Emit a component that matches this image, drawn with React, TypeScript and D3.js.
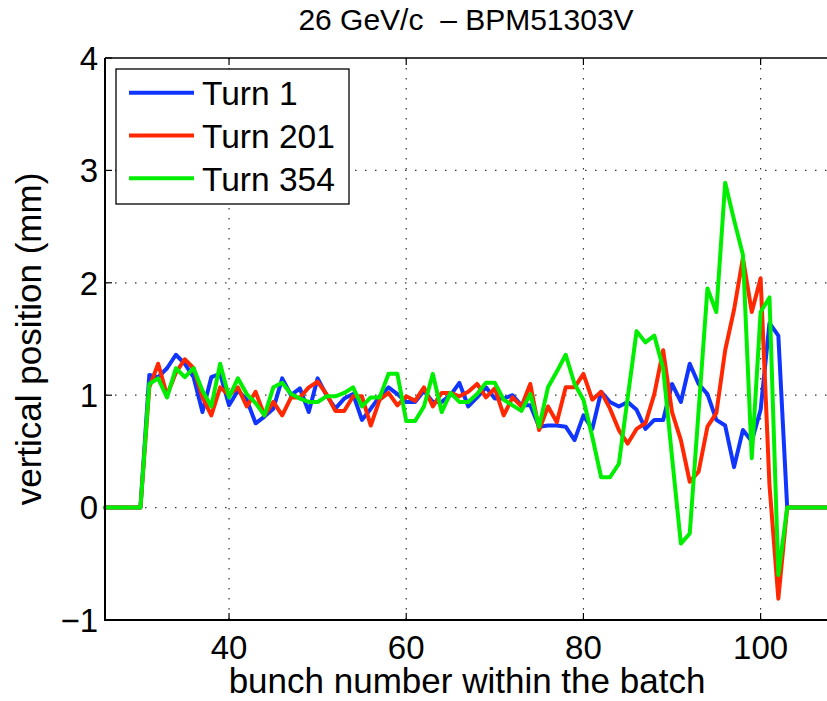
import React from "react";
import * as d3 from "d3";

const bunches: number[] = d3.range(26, 109);

const turn1: number[] = [
  0, 0, 0, 0, 0,
  1.18, 1.16, 1.24, 1.36, 1.28, 1.16, 0.85, 1.16, 1.19, 0.91, 1.04, 0.96, 0.75, 0.81, 0.88, 1.15, 1.0, 1.06, 0.85, 1.15, 1.0, 0.88, 0.97, 1.01,
  0.78, 0.88, 0.99, 1.07, 1.01, 0.94, 0.94, 1.04, 0.94, 0.94, 1.0, 1.11, 0.9, 0.98, 1.07, 0.97, 0.97, 1.0, 0.91, 0.91, 0.72, 0.73, 0.73, 0.72, 0.6,
  0.82, 0.7, 1.03, 0.94, 0.9, 0.94, 0.87, 0.7, 0.78, 0.78, 1.1, 0.94, 1.28, 1.1, 1.01, 0.78, 0.73, 0.36, 0.69, 0.59, 0.87, 1.64, 1.53,
  0, 0, 0, 0, 0, 0,
];

const turn201: number[] = [
  0, 0, 0, 0, 0,
  1.07, 1.28, 1.0, 1.2, 1.32, 1.24, 0.98, 0.82, 1.07, 1.0, 1.07, 0.9, 1.03, 0.82, 0.94, 0.82, 0.98, 0.98, 1.07, 1.12, 1.01, 0.86, 0.86, 0.99,
  0.99, 0.73, 0.96, 1.02, 0.91, 0.99, 0.95, 1.07, 0.9, 1.02, 1.02, 0.99, 1.03, 1.1, 0.98, 1.06, 0.82, 0.98, 0.9, 1.1, 0.69, 0.9, 0.76, 1.07, 1.07,
  1.19, 0.96, 1.03, 0.88, 0.69, 0.57, 0.7, 0.75, 1.01, 1.4, 0.85, 0.6, 0.23, 0.32, 0.72, 0.84, 1.4, 1.76, 2.22, 1.74, 2.04, 0.2, -0.81,
  0, 0, 0, 0, 0, 0,
];

const turn354: number[] = [
  0, 0, 0, 0, 0,
  1.1, 1.15, 0.98, 1.24, 1.16, 1.24, 1.04, 0.9, 1.28, 0.98, 1.15, 1.01, 0.93, 0.82, 1.07, 1.11, 1.01, 0.97, 0.94, 0.94, 0.99, 0.99, 1.02, 1.07,
  0.9, 0.98, 0.98, 1.19, 1.19, 0.77, 0.77, 0.9, 1.19, 0.85, 1.02, 0.94, 0.94, 1.01, 1.11, 1.11, 0.96, 0.91, 0.86, 1.01, 0.72, 1.07, 1.21, 1.36, 1.1,
  0.96, 0.63, 0.27, 0.27, 0.39, 0.98, 1.57, 1.47, 1.53, 1.24, 0.45, -0.32, -0.23, 0.86, 1.95, 1.74, 2.89, 2.56, 2.25, 0.44, 1.74, 1.87, -0.6,
  0, 0, 0, 0, 0, 0,
];

const seriesNames: string[] = ["Turn 1", "Turn 201", "Turn 354"];
const seriesColors: string[] = ["#0f35ff", "#ff2800", "#00ee00"];
const xTicks: number[] = [40, 60, 80, 100];
const yTicks: number[] = [-1, 0, 1, 2, 3, 4];
const title = "26 GeV/c  \u2013 BPM51303V";
const xLabel = "bunch number within the batch";
const yLabel = "vertical position (mm)";

const W = 827;
const H = 701;
const left = 105;
const right = 831.5;
const top = 58;
const bottom = 620;
const font = "'Liberation Sans', Arial, Helvetica, sans-serif";

export default function App() {
  const x = d3.scaleLinear().domain([26, 108]).range([left, right]);
  const y = d3.scaleLinear().domain([-1, 4]).range([bottom, top]);
  const allSeries = [turn1, turn201, turn354];
  const line = d3
    .line<number>()
    .x((_, i) => x(bunches[i]))
    .y((v) => y(v));

  const fmt = (v: number) => (v < 0 ? "\u2212" + Math.abs(v) : String(v));

  return (
    <svg
      width={W}
      height={H}
      style={{ position: "absolute", left: 0, top: 0, background: "#fff" }}
      fontFamily={font}
    >
      <rect x={0} y={0} width={W} height={H} fill="#fff" />
      {/* grid */}
      {xTicks.map((t) => (
        <line
          key={"gx" + t}
          x1={x(t)}
          x2={x(t)}
          y1={top}
          y2={bottom}
          stroke="#333"
          strokeWidth={1.2}
          strokeDasharray="1.5 8.5"
        />
      ))}
      {yTicks
        .filter((t) => t > -1 && t < 4)
        .map((t) => (
          <line
            key={"gy" + t}
            x1={left}
            x2={right}
            y1={y(t)}
            y2={y(t)}
            stroke="#333"
            strokeWidth={1.2}
            strokeDasharray="1.5 8.5"
          />
        ))}
      {/* ticks */}
      {xTicks.map((t) => (
        <g key={"tx" + t}>
          <line x1={x(t)} x2={x(t)} y1={bottom} y2={bottom - 7} stroke="#000" strokeWidth={1.2} />
          <line x1={x(t)} x2={x(t)} y1={top} y2={top + 7} stroke="#000" strokeWidth={1.2} />
        </g>
      ))}
      {yTicks.map((t) => (
        <line key={"ty" + t} x1={left} x2={left + 7} y1={y(t)} y2={y(t)} stroke="#000" strokeWidth={1.2} />
      ))}
      {/* data */}
      {allSeries.map((s, i) => (
        <path
          key={"s" + i}
          d={line(s) || ""}
          fill="none"
          stroke={seriesColors[i]}
          strokeWidth={4}
          strokeLinejoin="round"
          strokeLinecap="round"
        />
      ))}
      {/* axes */}
      <line x1={left} x2={right} y1={top} y2={top} stroke="#000" strokeWidth={1.5} />
      <line x1={left} x2={right} y1={bottom} y2={bottom} stroke="#000" strokeWidth={2} />
      <line x1={left} x2={left} y1={top} y2={bottom + 1} stroke="#000" strokeWidth={2} />
      {/* tick labels */}
      {xTicks.map((t) => (
        <text key={"lx" + t} x={x(t)} y={659} fontSize={33} textAnchor="middle" fill="#000">
          {fmt(t)}
        </text>
      ))}
      {yTicks.map((t) => (
        <text
          key={"ly" + t}
          x={98}
          y={y(t)}
          dy="0.36em"
          fontSize={33}
          textAnchor="end"
          fill="#000"
        >
          {fmt(t)}
        </text>
      ))}
      {/* labels */}
      <text x={467} y={693} fontSize={35} textAnchor="middle" fill="#000">
        {xLabel}
      </text>
      <text
        transform={`translate(41, ${(top + bottom) / 2}) rotate(-90)`}
        fontSize={35}
        textAnchor="middle"
        fill="#000"
      >
        {yLabel}
      </text>
      <text x={466} y={30} fontSize={30} textAnchor="middle" fill="#000" style={{ whiteSpace: "pre" }}>
        {title}
      </text>
      {/* legend */}
      <rect x={116} y={69} width={233} height={135} fill="#fff" stroke="#000" strokeWidth={1.3} />
      {seriesNames.map((n, i) => {
        const ly = 92.7 + i * 42.8;
        return (
          <g key={"lg" + i}>
            <line x1={129} x2={194} y1={ly} y2={ly} stroke={seriesColors[i]} strokeWidth={4} />
            <text x={202} y={ly + 12.5} fontSize={33.5} fill="#000">
              {n}
            </text>
          </g>
        );
      })}
    </svg>
  );
}
